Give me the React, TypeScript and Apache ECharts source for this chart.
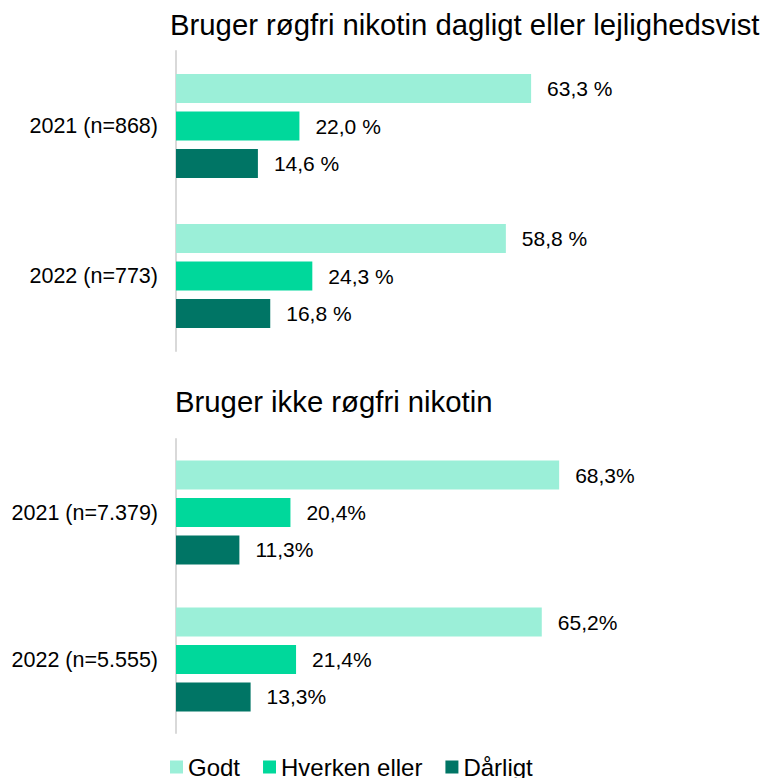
import React, { useEffect, useRef } from "react";
import * as echarts from "echarts";

const seriesNames = ["Godt", "Hverken eller", "Dårligt"];
const colors = ["#9BEFD8", "#00D89B", "#007565"];

const topTitle = "Bruger røgfri nikotin dagligt eller lejlighedsvist";
const topCategories = ["2021 (n=868)", "2022 (n=773)"];
const topGodt = [63.3, 58.8];
const topHverken = [22.0, 24.3];
const topDaarligt = [14.6, 16.8];

const bottomTitle = "Bruger ikke røgfri nikotin";
const bottomCategories = ["2021 (n=7.379)", "2022 (n=5.555)"];
const bottomGodt = [68.3, 65.2];
const bottomHverken = [20.4, 21.4];
const bottomDaarligt = [11.3, 13.3];

const FONT = "'Liberation Sans', Arial, Helvetica, sans-serif";

export default function App() {
  const ref = useRef<HTMLDivElement>(null);

  useEffect(() => {
    if (!ref.current) return;
    const chart = echarts.init(ref.current, undefined, { renderer: "svg" });

    const fmtTop = (p: any) => p.value.toFixed(1).replace(".", ",") + " %";
    const fmtBottom = (p: any) => p.value.toFixed(1).replace(".", ",") + "%";

    const makeSeries = (
      gridIdx: number,
      data: number[][],
      fmt: (p: any) => string
    ) =>
      data.map((d, i) => ({
        name: seriesNames[i],
        type: "bar",
        xAxisIndex: gridIdx,
        yAxisIndex: gridIdx,
        data: d,
        barWidth: 29,
        barGap: "29%",
        itemStyle: { color: colors[i] },
        label: {
          show: true,
          position: "right",
          distance: 16,
          formatter: fmt,
          fontFamily: FONT,
          fontSize: 21,
          color: "#000",
        },
      }));

    const yAxisBase = {
      type: "category",
      inverse: true,
      axisTick: { show: false },
      axisLine: { show: true, lineStyle: { color: "#D9D9D9", width: 2 } },
      axisLabel: { fontFamily: FONT, fontSize: 21.5, color: "#000", margin: 18 },
      splitLine: { show: false },
    };
    const xAxisBase = {
      type: "value",
      min: 0,
      max: 100,
      show: false,
      splitLine: { show: false },
    };

    chart.setOption({
      animation: false,
      backgroundColor: "#fff",
      textStyle: { fontFamily: FONT },
      graphic: [
        {
          type: "text",
          left: 170,
          top: 10,
          style: {
            text: topTitle,
            fontFamily: FONT,
            fontSize: 29.3,
            fill: "#000",
          },
        },
        {
          type: "text",
          left: 175,
          top: 387,
          style: {
            text: bottomTitle,
            fontFamily: FONT,
            fontSize: 29.3,
            fill: "#000",
          },
        },
      ],
      legend: {
        data: seriesNames,
        left: 170,
        top: 755,
        padding: 0,
        icon: "rect",
        itemWidth: 13,
        itemHeight: 13,
        itemGap: 23,
        textStyle: { fontFamily: FONT, fontSize: 24, color: "#000" },
      },
      grid: [
        { left: 176, top: 51, width: 561, height: 300 },
        { left: 176, top: 439, width: 561, height: 294 },
      ],
      xAxis: [
        { ...xAxisBase, gridIndex: 0 },
        { ...xAxisBase, gridIndex: 1 },
      ],
      yAxis: [
        { ...yAxisBase, gridIndex: 0, data: topCategories },
        { ...yAxisBase, gridIndex: 1, data: bottomCategories },
      ],
      series: [
        ...makeSeries(0, [topGodt, topHverken, topDaarligt], fmtTop),
        ...makeSeries(1, [bottomGodt, bottomHverken, bottomDaarligt], fmtBottom),
      ],
    });

    return () => chart.dispose();
  }, []);

  return (
    <div
      ref={ref}
      style={{ position: "fixed", left: 0, top: 0, width: 761, height: 778 }}
    />
  );
}
